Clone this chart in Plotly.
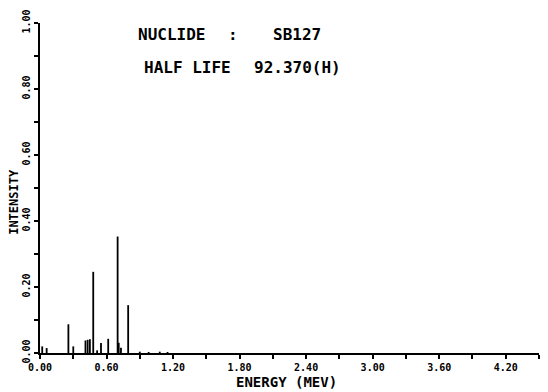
import plotly.graph_objects as go

# Gamma lines of Sb-127: energy (MeV) and relative intensity
energy_mev = [0.02, 0.06, 0.256, 0.30, 0.41, 0.43, 0.45, 0.48, 0.515, 0.55, 0.615,
              0.70, 0.71, 0.73, 0.795, 0.90, 0.98, 1.08, 1.15]
intensity = [0.020, 0.015, 0.087, 0.020, 0.038, 0.040, 0.042, 0.246, 0.008, 0.030, 0.043,
             0.353, 0.031, 0.016, 0.145, 0.004, 0.003, 0.004, 0.003]

x_tick_vals = [0.0, 0.3, 0.6, 0.9, 1.2, 1.5, 1.8, 2.1, 2.4, 2.7, 3.0, 3.3, 3.6, 3.9, 4.2, 4.5]
x_tick_text = ["0.00", "", "0.60", "", "1.20", "", "1.80", "", "2.40", "", "3.00", "",
               "3.60", "", "4.20", ""]
y_tick_vals = [0.0, 0.1, 0.2, 0.3, 0.4, 0.5, 0.6, 0.7, 0.8, 0.9, 1.0]
y_tick_text = ["0.00", "", "0.20", "", "0.40", "", "0.60", "", "0.80", "", "1.00"]

nuclide = "SB127"
half_life = "92.370(H)"

# Build stick spectrum as vertical line segments
xs, ys = [], []
for e, h in zip(energy_mev, intensity):
    xs += [e, e, None]
    ys += [0, h, None]

font_mono = "DejaVu Sans Mono"
W, H = 548, 392
ML, MR, MT, MB = 40, 9, 19, 39

fig = go.Figure()
fig.add_trace(go.Scatter(x=xs, y=ys, mode="lines",
                         line=dict(color="black", width=1.8),
                         hoverinfo="skip", showlegend=False))

fig.update_layout(
    width=W, height=H,
    margin=dict(l=ML, r=MR, t=MT, b=MB),
    paper_bgcolor="white", plot_bgcolor="white",
    xaxis=dict(range=[0, 4.5], showgrid=False, zeroline=False,
               showline=True, linecolor="black", linewidth=2,
               tickmode="array", tickvals=x_tick_vals, ticktext=x_tick_text,
               ticks="outside", ticklen=4, tickwidth=1.5, tickcolor="black",
               tickfont=dict(family=font_mono, size=10, color="black", weight="bold")),
    yaxis=dict(range=[0, 1.0], showgrid=False, zeroline=False,
               showline=True, linecolor="black", linewidth=2,
               tickmode="array", tickvals=y_tick_vals, ticktext=y_tick_text,
               ticks="outside", ticklen=4, tickwidth=1.5, tickcolor="black",
               tickangle=-90,
               tickfont=dict(family=font_mono, size=10, color="black", weight="bold")),
)

title_font = dict(family=font_mono, size=16, color="black", weight="bold")
pw, ph = W - ML - MR, H - MT - MB


def page_label(text, px, py, font, xanchor="left", angle=0):
    # place text at a pixel position on the page (paper refs span the plot area)
    fig.add_annotation(text=text, x=(px - ML) / pw, y=(H - MB - py) / ph,
                       xref="paper", yref="paper",
                       xanchor=xanchor, yanchor="middle", showarrow=False,
                       font=font, textangle=angle)


# Header block
page_label("NUCLIDE", 136, 31, title_font)
page_label(":", 226, 31, title_font)
page_label(nuclide, 271, 31, title_font)
page_label("HALF LIFE", 142, 64, title_font)
page_label(half_life, 252, 64, title_font)

# Axis titles
page_label("ENERGY (MEV)", 286, 382, dict(family=font_mono, size=14, color="black", weight="bold"),
           xanchor="center")
page_label("INTENSITY", 14, 200, dict(family=font_mono, size=12, color="black", weight="bold"),
           xanchor="center", angle=-90)

fig.write_html("out.html")
